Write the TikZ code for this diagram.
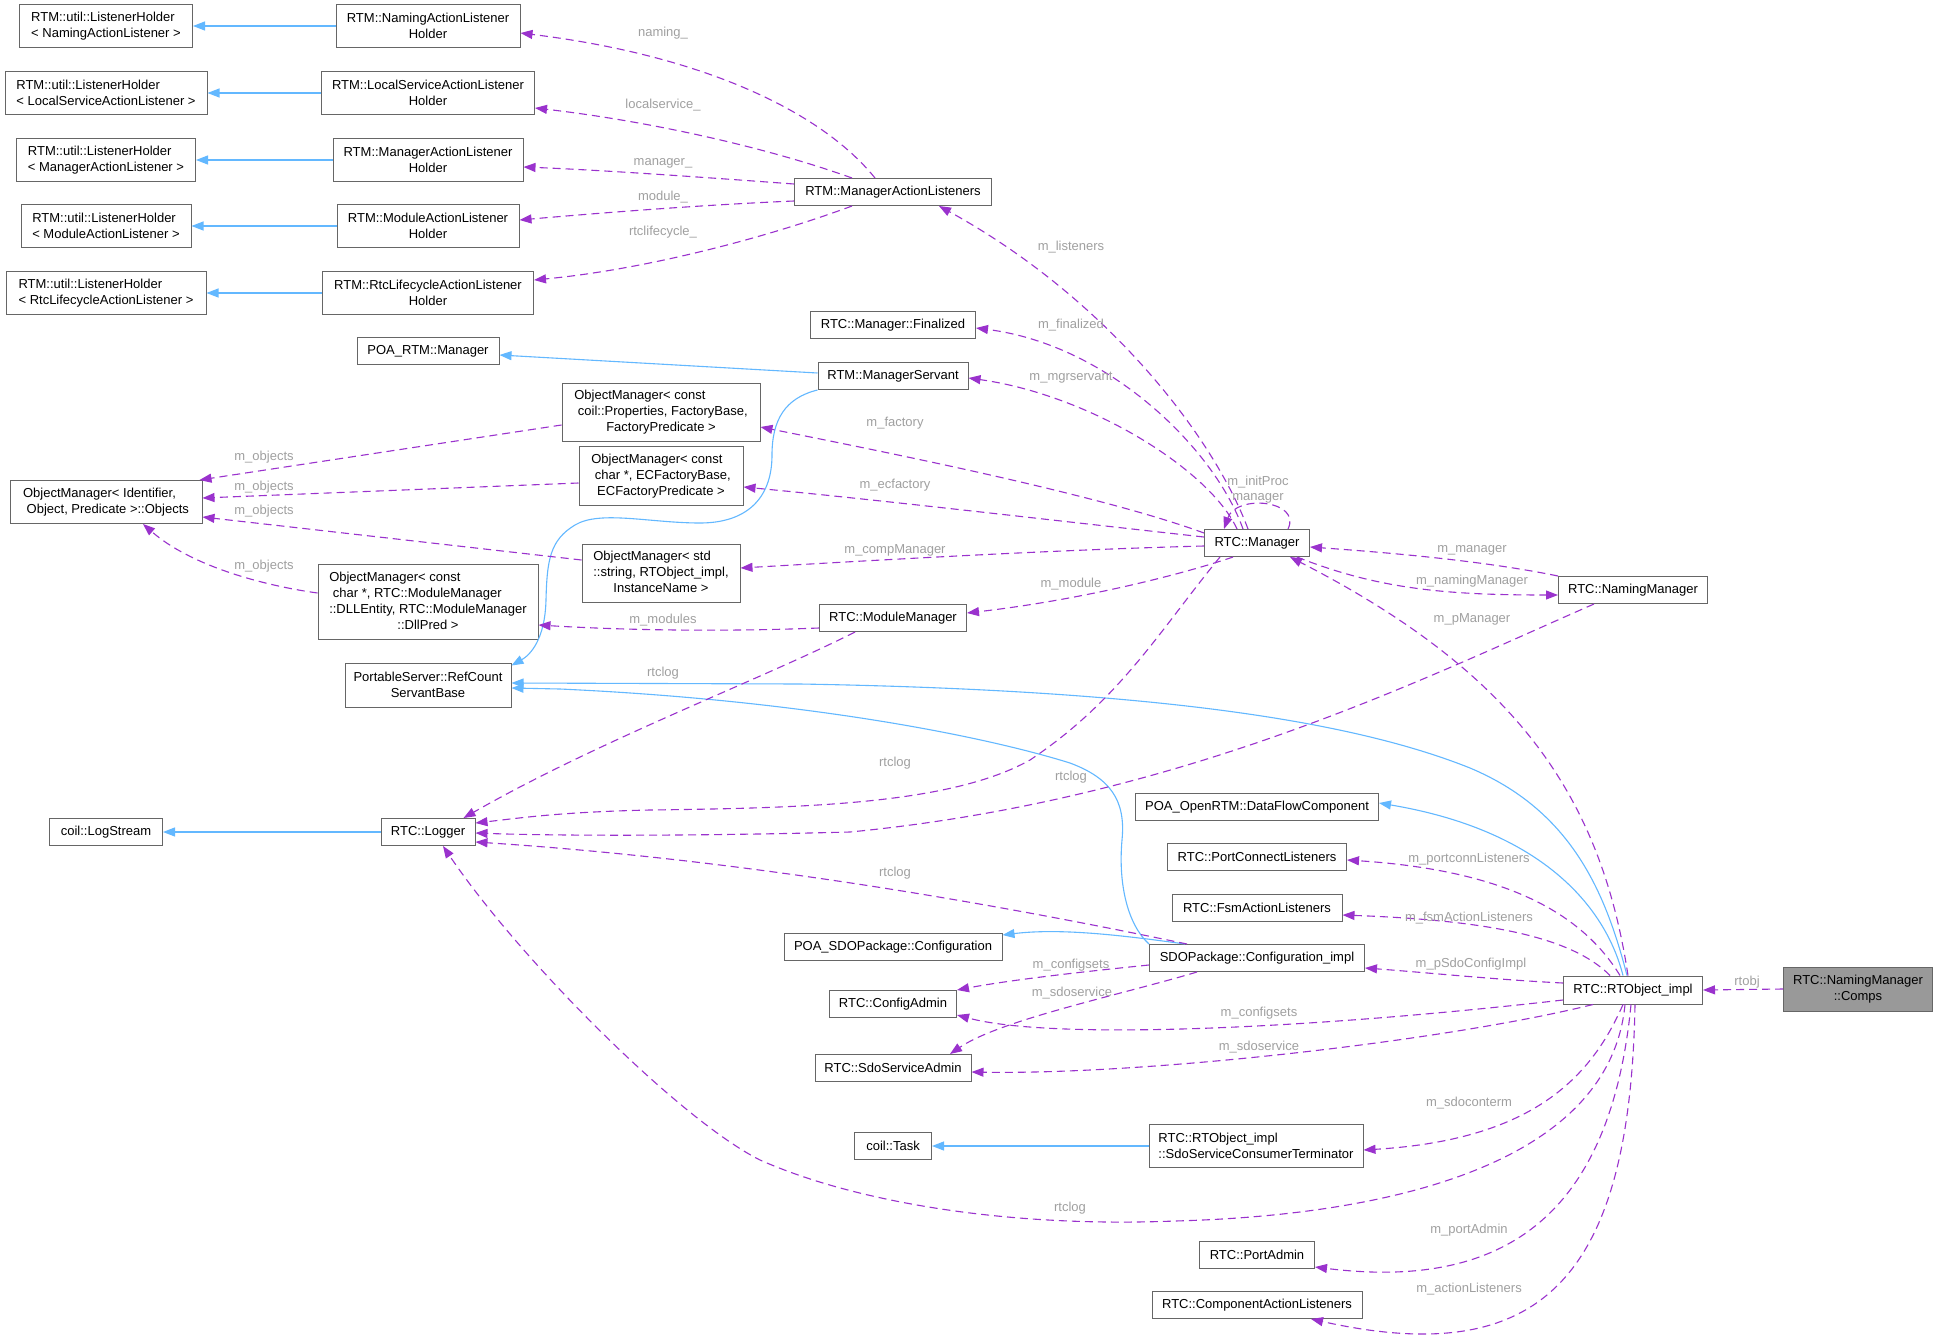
\documentclass[tikz,border=0pt]{standalone}
\usepackage{fontspec}
\setmainfont{Liberation Sans}
\usetikzlibrary{arrows.meta}
\definecolor{bluec}{HTML}{63B8FF}
\definecolor{purp}{HTML}{9A32CD}
\definecolor{bord}{HTML}{666666}
\definecolor{lblc}{HTML}{A0A0A0}
\definecolor{compfill}{HTML}{999999}
\tikzset{
  box/.style={draw=bord, line width=1pt, fill=white, inner sep=0pt, font=\fontsize{13pt}{16pt}\selectfont},
  inh/.style={draw=bluec, line width=1.1pt, -{Triangle[length=12pt,width=9pt]}},
  usg/.style={draw=purp, line width=1.1pt, dash pattern=on 8pt off 5pt, -{Triangle[length=12pt,width=9pt]}},
  lbl/.style={text=lblc, inner sep=0pt, font=\fontsize{13pt}{16pt}\selectfont},
}
\begin{document}
\begin{tikzpicture}[x=1pt,y=-1pt]
\useasboundingbox[fill=white] (0,0) rectangle (1938,1338);

% ---------- nodes ----------
\node[box, align=left, minimum width=173pt, minimum height=43pt] (LHN) at (106,26) {RTM::util::ListenerHolder\\< NamingActionListener >};
\node[box, align=center, minimum width=184pt, minimum height=43pt] (NALH) at (428,26) {RTM::NamingActionListener\\Holder};
\node[box, align=left, minimum width=202pt, minimum height=43pt] (LHL) at (106,93) {RTM::util::ListenerHolder\\< LocalServiceActionListener >};
\node[box, align=center, minimum width=213pt, minimum height=43pt] (LALH) at (428,93) {RTM::LocalServiceActionListener\\Holder};
\node[box, align=left, minimum width=179pt, minimum height=43pt] (LHM) at (106,160) {RTM::util::ListenerHolder\\< ManagerActionListener >};
\node[box, align=center, minimum width=190pt, minimum height=43pt] (MALH) at (428,160) {RTM::ManagerActionListener\\Holder};
\node[box, align=left, minimum width=170pt, minimum height=43pt] (LHMo) at (106,226) {RTM::util::ListenerHolder\\< ModuleActionListener >};
\node[box, align=center, minimum width=182pt, minimum height=43pt] (MoALH) at (428,226) {RTM::ModuleActionListener\\Holder};
\node[box, align=left, minimum width=200pt, minimum height=43pt] (LHR) at (106,293) {RTM::util::ListenerHolder\\< RtcLifecycleActionListener >};
\node[box, align=center, minimum width=211pt, minimum height=43pt] (RALH) at (428,293) {RTM::RtcLifecycleActionListener\\Holder};
\node[box, minimum width=142pt, minimum height=27pt] (POARTM) at (428,351) {POA\_RTM::Manager};
\node[box, align=left, minimum width=192pt, minimum height=43pt] (OMObj) at (106,502) {ObjectManager< Identifier,\\\ Object, Predicate >::Objects};
\node[box, minimum width=220pt, minimum height=75pt] (OMDLL) at (428,602) {\begin{tabular}{@{}l@{}}ObjectManager< const\\\ char *, RTC::ModuleManager\\::DLLEntity, RTC::ModuleManager\\\multicolumn{1}{@{}c@{}}{::DllPred >}\end{tabular}};
\node[box, align=center, minimum width=166pt, minimum height=44pt] (PS) at (428,685) {PortableServer::RefCount\\ServantBase};
\node[box, minimum width=113pt, minimum height=27pt] (LogS) at (106,832) {coil::LogStream};
\node[box, minimum width=94pt, minimum height=27pt] (Logger) at (428,832) {RTC::Logger};
\node[box, minimum width=197pt, minimum height=27pt] (MALs) at (893,192) {RTM::ManagerActionListeners};
\node[box, minimum width=165pt, minimum height=27pt] (Fin) at (893,325) {RTC::Manager::Finalized};
\node[box, minimum width=150pt, minimum height=27pt] (MS) at (893,376) {RTM::ManagerServant};
\node[box, minimum width=198pt, minimum height=58pt] (OMF) at (661,412) {\begin{tabular}{@{}l@{}}ObjectManager< const\\\ coil::Properties, FactoryBase,\\\multicolumn{1}{@{}c@{}}{FactoryPredicate >}\end{tabular}};
\node[box, minimum width=164pt, minimum height=59pt] (OMEC) at (661,476) {\begin{tabular}{@{}l@{}}ObjectManager< const\\\ char *, ECFactoryBase,\\\multicolumn{1}{@{}c@{}}{ECFactoryPredicate >}\end{tabular}};
\node[box, minimum width=158pt, minimum height=58pt] (OMS) at (661,573) {\begin{tabular}{@{}l@{}}ObjectManager< std\\::string, RTObject\_impl,\\\multicolumn{1}{@{}c@{}}{InstanceName >}\end{tabular}};
\node[box, minimum width=147pt, minimum height=27pt] (ModM) at (893,618) {RTC::ModuleManager};
\node[box, minimum width=105pt, minimum height=27pt] (Mgr) at (1257,543) {RTC::Manager};
\node[box, minimum width=149pt, minimum height=27pt] (NM) at (1633,590) {RTC::NamingManager};
\node[box, minimum width=243pt, minimum height=27pt] (DFC) at (1257,807) {POA\_OpenRTM::DataFlowComponent};
\node[box, minimum width=179pt, minimum height=27pt] (PCL) at (1257,857) {RTC::PortConnectListeners};
\node[box, minimum width=170pt, minimum height=27pt] (FAL) at (1257,908) {RTC::FsmActionListeners};
\node[box, minimum width=215pt, minimum height=27pt] (CI) at (1257,958) {SDOPackage::Configuration\_impl};
\node[box, minimum width=218pt, minimum height=27pt] (POASDO) at (893,947) {POA\_SDOPackage::Configuration};
\node[box, minimum width=139pt, minimum height=28pt] (RTO) at (1633,990) {RTC::RTObject\_impl};
\node[box, fill=compfill, align=center, minimum width=149pt, minimum height=44pt] (Comps) at (1858,989) {RTC::NamingManager\\::Comps};
\node[box, minimum width=127pt, minimum height=27pt] (CA) at (893,1004) {RTC::ConfigAdmin};
\node[box, minimum width=156pt, minimum height=27pt] (SSA) at (893,1068) {RTC::SdoServiceAdmin};
\node[box, minimum width=77pt, minimum height=27pt] (Task) at (893,1146) {coil::Task};
\node[box, align=left, minimum width=214pt, minimum height=43pt] (SSCT) at (1256,1146) {RTC::RTObject\_impl\\::SdoServiceConsumerTerminator};
\node[box, minimum width=115pt, minimum height=27pt] (PA) at (1257,1255) {RTC::PortAdmin};
\node[box, minimum width=210pt, minimum height=27pt] (CAL) at (1257,1305) {RTC::ComponentActionListeners};

% ---------- inheritance (blue) ----------
\draw[inh] (NALH.west) -- (LHN.east);
\draw[inh] (LALH.west) -- (LHL.east);
\draw[inh] (MALH.west) -- (LHM.east);
\draw[inh] (MoALH.west) -- (LHMo.east);
\draw[inh] (RALH.west) -- (LHR.east);
\draw[inh] ([yshift=3pt]MS.west) -- ([yshift=-4pt]POARTM.east);
\draw[inh] (MS.south west) .. controls (785,398) and (772,420) .. (772,455)
  .. controls (772,500) and (745,523) .. (700,523)
  .. controls (650,523) and (600,510) .. (575,525)
  .. controls (550,540) and (547,560) .. (546,600)
  .. controls (545,640) and (530,655) .. ([yshift=-3pt]PS.north east);
\draw[inh] (CI.north west) .. controls (1128,925) and (1118,885) .. (1122,840)
  .. controls (1126,800) and (1110,778) .. (1070,763)
  .. controls (980,735) and (800,700) .. (560,689) -- ([yshift=-3pt]PS.east);
\draw[inh] ([xshift=-6pt]RTO.north) .. controls (1605,890) and (1570,810) .. (1470,768)
  .. controls (1350,720) and (1150,690) .. (800,684) -- ([yshift=2pt]PS.east);
\draw[inh] ([xshift=-10pt]RTO.north) .. controls (1605,905) and (1540,830) .. ([yshift=4pt]DFC.east);
\draw[inh] ([xshift=-72pt]CI.north) .. controls (1120,935) and (1060,928) .. ([yshift=-2pt]POASDO.north east);
\draw[inh] (SSCT.west) -- (Task.east);
\draw[inh] (Logger.west) -- (LogS.east);

% ---------- usage (purple dashed) ----------
\draw[usg] ([xshift=-18pt]MALs.north) .. controls (820,110) and (700,55) .. ([yshift=-7pt]NALH.east);
\draw[usg] ([xshift=-41pt]MALs.north) .. controls (760,145) and (640,120) .. ([yshift=-15pt]LALH.east);
\draw[usg] ([yshift=8pt]MALs.west) .. controls (700,177) and (600,170) .. ([yshift=-7pt]MALH.east);
\draw[usg] ([yshift=-9pt]MALs.west) .. controls (700,205) and (600,213) .. ([yshift=6pt]MoALH.east);
\draw[usg] ([xshift=-41pt]MALs.south) .. controls (760,240) and (640,270) .. ([yshift=13pt]RALH.east);

\draw[usg] ([xshift=-9pt]Mgr.north) .. controls (1215,440) and (1110,300) .. ([xshift=46pt]MALs.south);
\draw[usg] ([xshift=-14pt]Mgr.north) .. controls (1215,450) and (1110,345) .. ([yshift=-3pt]Fin.east);
\draw[usg] ([xshift=-20pt]Mgr.north) .. controls (1210,470) and (1090,395) .. ([yshift=-2pt]MS.east);
\draw[usg] ([yshift=10pt]Mgr.west) .. controls (1100,495) and (900,455) .. ([yshift=-15pt]OMF.east);
\draw[usg] ([yshift=6pt]Mgr.west) .. controls (1050,520) and (880,500) .. ([yshift=-11pt]OMEC.east);
\draw[usg] ([yshift=-3pt]Mgr.west) .. controls (1050,550) and (880,560) .. ([yshift=5pt]OMS.east);
\draw[usg] ([xshift=-24pt]Mgr.south) .. controls (1180,575) and (1080,600) .. ([yshift=5pt]ModM.east);
\draw[usg] ([xshift=31pt]Mgr.north) .. controls (1302,500) and (1236,494) .. ([xshift=-33pt]Mgr.north);
\draw[usg] (NM.north west) .. controls (1480,560) and (1380,552) .. ([yshift=-4pt]Mgr.east);
\draw[usg] ([xshift=40pt]Mgr.south) .. controls (1380,590) and (1450,595) .. ([yshift=-5pt]NM.west);
\draw[usg] ([xshift=-5pt]RTO.north) .. controls (1600,790) and (1510,670) .. ([xshift=33pt]Mgr.south);

\draw[usg] ([xshift=-39pt]NM.south) .. controls (1420,680) and (1180,800) .. (850,832)
  .. controls (700,836) and (560,836) .. ([yshift=-1pt]Logger.east);
\draw[usg] ([xshift=-37pt]Mgr.south) .. controls (1160,630) and (1120,700) .. (1030,760)
  .. controls (950,805) and (800,808) .. (650,810)
  .. controls (560,812) and (520,818) .. ([yshift=9pt]Logger.east);
\draw[usg] ([xshift=-38pt]ModM.south) .. controls (760,680) and (600,740) .. ([xshift=-12pt]Logger.north east);
\draw[usg] ([xshift=-70pt]CI.north) .. controls (1000,905) and (750,860) .. ([yshift=-10pt]Logger.east);
\draw[usg] ([yshift=-7pt]CI.west) .. controls (1080,972) and (1010,980) .. (CA.north east);
\draw[usg] ([xshift=-60pt]CI.south) .. controls (1120,995) and (1000,1020) .. ([xshift=57pt]SSA.north);
\draw[usg] ([yshift=-10pt]ModM.west) .. controls (720,632) and (620,630) .. ([yshift=-23pt]OMDLL.east);

\draw[usg] ([yshift=-13pt]OMF.west) -- ([xshift=-3pt]OMObj.north east);
\draw[usg] ([yshift=-7pt]OMEC.west) -- ([yshift=4pt]OMObj.east);
\draw[usg] ([yshift=13pt]OMS.west) -- ([yshift=-15pt]OMObj.east);
\draw[usg] ([yshift=9pt]OMDLL.west) .. controls (260,585) and (190,565) .. ([xshift=37pt]OMObj.south);

\draw[usg] ([xshift=-13pt]RTO.north) .. controls (1580,910) and (1500,870) .. ([yshift=-3pt]PCL.east);
\draw[usg] ([xshift=-23pt]RTO.north) .. controls (1570,935) and (1480,920) .. ([yshift=-7pt]FAL.east);
\draw[usg] ([yshift=7pt]RTO.west) .. controls (1500,980) and (1420,972) .. ([yshift=-10pt]CI.east);
\draw[usg] ([yshift=-10pt]RTO.west) .. controls (1300,1030) and (1050,1040) .. ([yshift=-11pt]CA.east);
\draw[usg] ([xshift=-40pt]RTO.south) .. controls (1450,1040) and (1150,1075) .. ([yshift=-4pt]SSA.east);
\draw[usg] ([xshift=-10pt]RTO.south) .. controls (1590,1080) and (1530,1140) .. ([yshift=-4pt]SSCT.east);
\draw[usg] ([xshift=-8pt]RTO.south) .. controls (1610,1160) and (1400,1215) .. (1175,1221)
  .. controls (1000,1228) and (850,1200) .. (760,1160)
  .. controls (680,1120) and (520,960) .. ([xshift=15pt]Logger.south);
\draw[usg] ([xshift=-2pt]RTO.south) .. controls (1610,1220) and (1500,1290) .. ([yshift=2pt]PA.south east);
\draw[usg] ([xshift=2pt]RTO.south) .. controls (1630,1280) and (1540,1370) .. ([xshift=54pt]CAL.south);
\draw[usg] (Comps.west) -- (RTO.east);

% ---------- labels ----------
\node[lbl] (l01) at (663,33) {naming\_};
\node[lbl] (l02) at (663,105) {localservice\_};
\node[lbl] (l03) at (663,163) {manager\_};
\node[lbl] (l04) at (663,197) {module\_};
\node[lbl] (l05) at (663,232) {rtclifecycle\_};
\node[lbl] (l06) at (1071,247) {m\_listeners};
\node[lbl] (l07) at (1071,325) {m\_finalized};
\node[lbl] (l08) at (1071,378) {m\_mgrservant};
\node[lbl] (l09) at (895,423) {m\_factory};
\node[lbl] (l10) at (895,485) {m\_ecfactory};
\node[lbl] (l11) at (895,550) {m\_compManager};
\node[lbl] (l12) at (1071,584) {m\_module};
\node[lbl] (l13) at (663,620) {m\_modules};
\node[lbl] (l14) at (1258,482) {m\_initProc};
\node[lbl] (l15) at (1258,498) {manager};
\node[lbl] (l16) at (1472,550) {m\_manager};
\node[lbl] (l17) at (1472,581) {m\_namingManager};
\node[lbl] (l18) at (1472,619) {m\_pManager};
\node[lbl] (l19) at (264,457) {m\_objects};
\node[lbl] (l20) at (264,487) {m\_objects};
\node[lbl] (l21) at (264,511) {m\_objects};
\node[lbl] (l22) at (264,566) {m\_objects};
\node[lbl] (l23) at (663,673) {rtclog};
\node[lbl] (l24) at (895,763) {rtclog};
\node[lbl] (l25) at (1071,777) {rtclog};
\node[lbl] (l26) at (895,873) {rtclog};
\node[lbl] (l27) at (1070,1208) {rtclog};
\node[lbl] (l28) at (1071,965) {m\_configsets};
\node[lbl] (l29) at (1072,993) {m\_sdoservice};
\node[lbl] (l30) at (1469,859) {m\_portconnListeners};
\node[lbl] (l31) at (1469,918) {m\_fsmActionListeners};
\node[lbl] (l32) at (1471,964) {m\_pSdoConfigImpl};
\node[lbl] (l33) at (1259,1013) {m\_configsets};
\node[lbl] (l34) at (1259,1047) {m\_sdoservice};
\node[lbl] (l35) at (1469,1103) {m\_sdoconterm};
\node[lbl] (l36) at (1469,1230) {m\_portAdmin};
\node[lbl] (l37) at (1469,1289) {m\_actionListeners};
\node[lbl] (l38) at (1747,982) {rtobj};
\end{tikzpicture}
\end{document}
